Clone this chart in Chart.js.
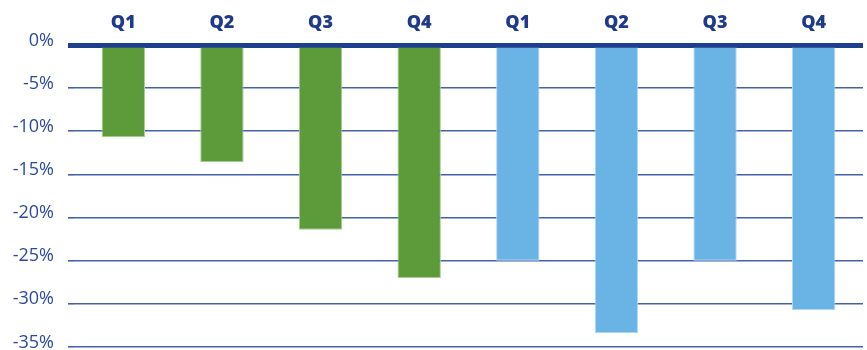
<!DOCTYPE html>
<html>
<head>
<meta charset="utf-8">
<script src="https://cdn.jsdelivr.net/npm/chart.js@4/dist/chart.umd.min.js"></script>
<style>
  html, body { margin: 0; padding: 0; background: #fff; }
</style>
</head>
<body>
<canvas id="quarterChart" width="867" height="350"></canvas>
<script>
// quarter labels across the top, two years side by side
const quarters = ['Q1', 'Q2', 'Q3', 'Q4', 'Q1', 'Q2', 'Q3', 'Q4'];
const greenValues = [-10.7, -13.6, -21.4, -27.0];
const blueValues = [-25.0, -33.4, -25.0, -30.7];
const yTicks = [0, -5, -10, -15, -20, -25, -30, -35];

const allValues = greenValues.concat(blueValues);
const fills = allValues.map((v, i) => i < greenValues.length ? '#5c9a3a' : '#69b4e4');
const edges = allValues.map((v, i) => i < greenValues.length ? '#a9cf92' : '#b3d9f2');

var ctx = document.getElementById('quarterChart');
var config = {
  type: 'bar',
  data: {
    labels: quarters,
    datasets: [
      {
        data: allValues,
        backgroundColor: fills,
        borderColor: edges,
        borderWidth: 1,
        barPercentage: 0.44,
        categoryPercentage: 1
      }
    ]
  },
  options: {
    responsive: false,
    animation: false,
    layout: { padding: { top: 0, right: 4, bottom: 3, left: 0 } },
    plugins: { legend: { display: false }, tooltip: { enabled: false } },
    scales: {
      x: {
        position: 'top',
        grid: { display: false, drawTicks: false },
        border: { display: false },
        ticks: {
          padding: 11,
          color: '#1f3a8a',
          font: { family: 'Open Sans', size: 18, weight: 800 }
        },
        afterFit: function (scale) { scale.height = 45; }
      },
      y: {
        min: Math.min(...yTicks),
        max: Math.max(...yTicks),
        afterBuildTicks: function (scale) {
          scale.ticks = yTicks.map(v => ({ value: v }));
        },
        border: { display: false },
        grid: {
          drawTicks: true,
          tickLength: 6,
          color: c => c.tick && c.tick.value === 0 ? '#1e3f8f' : '#4561aa',
          lineWidth: c => c.tick && c.tick.value === 0 ? 5 : 1.6
        },
        ticks: {
          padding: 14,
          color: '#2c4a9c',
          // empty 2nd line with a short line height lifts the label a few px above its line
          font: { family: 'Open Sans', size: 18, lineHeight: '9px' },
          callback: v => [v + '%', '']
        },
        afterFit: function (scale) {
          scale.width = 74;
          // the label padding would otherwise push the plot bottom up
          scale.paddingTop = 0;
          scale.paddingBottom = 0;
        }
      }
    }
  }
};

var quarterChart = new Chart(ctx, config);
</script>
</body>
</html>
